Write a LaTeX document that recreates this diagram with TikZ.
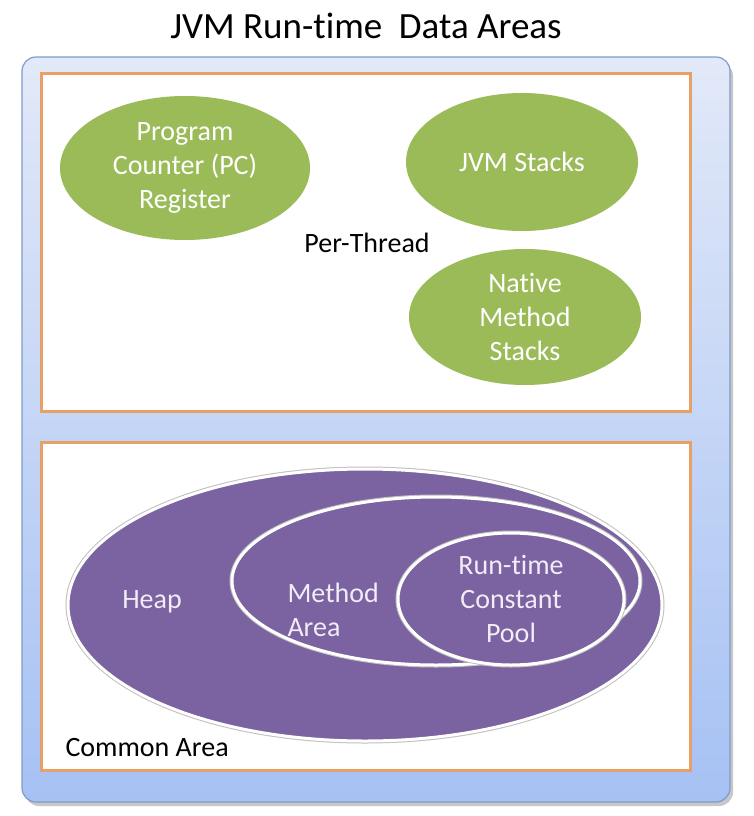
\documentclass[tikz,border=0pt]{standalone}
\usepackage{fontspec}
\setmainfont{Carlito}[Ligatures=NoCommon]
\usetikzlibrary{shapes.geometric}

\definecolor{skytop}{HTML}{E2E9F8}
\definecolor{skybottom}{HTML}{A6C1F3}
\definecolor{skyline}{HTML}{7E9CCB}
\definecolor{boxorange}{HTML}{E9A066}
\definecolor{threadgreen}{HTML}{9BBB59}
\definecolor{heappurple}{HTML}{7A63A0}
\definecolor{paletext}{HTML}{F1ECF7}

\begin{document}
\begin{tikzpicture}[x=1pt,y=-1pt,
  areabox/.style={draw=boxorange, line width=3pt, fill=white},
  thread/.style={ellipse, fill=threadgreen, text=white, align=center,
    inner sep=0pt, font=\fontsize{28}{34}\selectfont},
  common/.style={ellipse, draw=white, line width=3pt, fill=heappurple,
    inner sep=0pt, preaction={draw=black!25, line width=5pt}},
  lbl/.style={align=center, font=\fontsize{28}{34}\selectfont}]
  \useasboundingbox (0,0) rectangle (754,816);

  % Title
  \node[lbl, font=\fontsize{37}{40}\selectfont] (title) at (366,26) {JVM Run-time\ \ Data Areas};

  % Outer blue panel with shadow
  \fill[black!22, rounded corners=14pt] (25,62) rectangle (733,806);
  \shade[top color=skytop, bottom color=skybottom, rounded corners=14pt]
    (22,57) rectangle (730,802);
  \draw[skyline, line width=1.2pt, rounded corners=14pt] (22,57) rectangle (730,802);

  % Per-thread box
  \draw[areabox] (41,73) rectangle (690,411);
  \node[thread, minimum width=250pt, minimum height=144pt] (pc) at (185,168)
    {Program\\Counter (PC)\\Register};
  \node[thread, minimum width=232pt, minimum height=138pt] (jvmstacks) at (522,162)
    {JVM Stacks};
  \node[thread, minimum width=232pt, minimum height=136pt] (native) at (525,317)
    {Native\\Method\\Stacks};
  \node[lbl] (perthread) at (367,243) {Per-Thread};

  % Common box
  \draw[areabox] (41,442) rectangle (690,770);
  \node[common, minimum width=594pt, minimum height=272pt] (heap) at (365,605) {};
  \node[common, minimum width=408pt, minimum height=168pt] (method) at (436,581) {};
  \node[common, minimum width=226pt, minimum height=132pt, text=paletext, align=center,
    font=\fontsize{28}{34}\selectfont] (pool) at (511,599) {Run-time\\Constant\\Pool};
  \node[lbl, text=paletext] (heaptext) at (152,602) {Heap};
  \node[lbl, text=paletext, align=left, anchor=west] (methodtext) at (284,610) {Method\\Area};
  \node[lbl, anchor=west] (commontext) at (62,748) {Common Area};
\end{tikzpicture}
\end{document}
